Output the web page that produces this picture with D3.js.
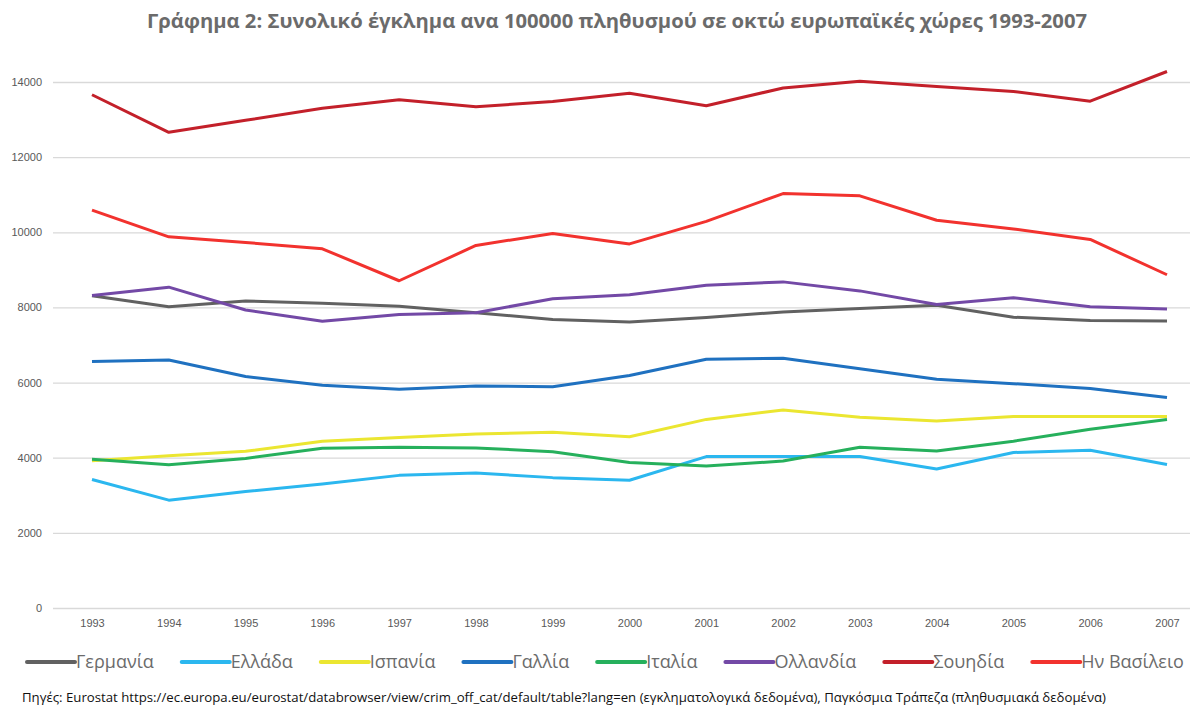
<!DOCTYPE html>
<html>
<head>
<meta charset="utf-8">
<script src="https://cdn.jsdelivr.net/npm/d3@7"></script>
<style>
  body { margin: 0; background: #fff; }
  svg { display: block; }
</style>
</head>
<body>
<div id="grafiek"></div>
<script>
// jaren op de x-as
const YEARS = ['1993','1994','1995','1996','1997','1998','1999','2000','2001','2002','2003','2004','2005','2006','2007']
const Y_TICKS = [0, 2000, 4000, 6000, 8000, 10000, 12000, 14000]

const COUNTRIES = ['Γερμανία','Ελλάδα','Ισπανία','Γαλλία','Ιταλία','Ολλανδία','Σουηδία','Ην Βασίλειο']
const COLORS = ['#616161','#2bb7ef','#ebe631','#1f71c0','#26b05c','#7349a6','#c3202a','#f2322e']

// waarden per land
const germany     = [8310, 8020, 8170, 8110, 8030, 7860, 7680, 7610, 7730, 7880, 7970, 8060, 7740, 7650, 7640]
const greece      = [3420, 2870, 3100, 3300, 3530, 3590, 3470, 3400, 4030, 4030, 4030, 3700, 4140, 4200, 3820]
const spain       = [3920, 4050, 4170, 4440, 4540, 4630, 4680, 4560, 5020, 5270, 5080, 4980, 5100, 5100, 5100]
const france      = [6560, 6600, 6160, 5930, 5820, 5910, 5890, 6190, 6620, 6650, 6370, 6090, 5970, 5840, 5600]
const italy       = [3960, 3810, 3980, 4250, 4280, 4260, 4160, 3870, 3780, 3910, 4280, 4180, 4440, 4760, 5020]
const netherlands = [8320, 8540, 7930, 7630, 7810, 7860, 8230, 8340, 8590, 8680, 8440, 8080, 8260, 8020, 7960]
const sweden      = [13660, 12660, 12980, 13300, 13530, 13340, 13480, 13700, 13370, 13840, 14020, 13880, 13750, 13490, 14280]
const uk          = [10590, 9880, 9730, 9560, 8710, 9650, 9970, 9690, 10290, 11030, 10970, 10320, 10090, 9810, 8870]

const SERIES = [germany, greece, spain, france, italy, netherlands, sweden, uk]

const W = 1197, H = 706
const MARGIN = {top: 82, bottom: 98, left: 53, right: 7}

const SVG = d3.select('#grafiek').append('svg')
  .attr('width', W)
  .attr('height', H)
  .style('font-family', '"Open Sans", sans-serif')

// punten op de x-as
const x = d3.scalePoint()
  .domain(YEARS)
  .range([92, 1167])

const y = d3.scaleLinear()
  .domain([0, 14000])
  .range([H - MARGIN.bottom, MARGIN.top])

// title
SVG.append('text')
  .attr('x', 617)
  .attr('y', 28)
  .attr('text-anchor', 'middle')
  .attr('font-size', 20)
  .attr('font-weight', 'bold')
  .attr('fill', '#6b6b6b')
  .attr('textLength', 940)
  .attr('lengthAdjust', 'spacingAndGlyphs')
  .text('Γράφημα 2: Συνολικό έγκλημα ανα 100000 πληθυσμού σε οκτώ ευρωπαϊκές χώρες 1993-2007')

// gridlines + y labels
const yAxis = SVG.append('g')
  .attr('transform', `translate(${MARGIN.left},0)`)
  .call(d3.axisLeft(y).tickValues(Y_TICKS).tickSize(-(W - MARGIN.left - MARGIN.right)).tickPadding(11).tickFormat(d3.format('d')))
yAxis.select('.domain').remove()
yAxis.selectAll('line').attr('stroke', '#d9d9d9').attr('stroke-width', 1.3)
yAxis.selectAll('text').attr('fill', '#595959').attr('font-size', 11)

// x labels
const xAxis = SVG.append('g')
  .attr('transform', `translate(0,${H - MARGIN.bottom})`)
  .call(d3.axisBottom(x).tickSize(0).tickPadding(11))
xAxis.select('.domain').remove()
xAxis.selectAll('text').attr('fill', '#595959').attr('font-size', 11)

// lines
const line = d3.line()
  .x((d, i) => x(YEARS[i]))
  .y(d => y(d))

SVG.append('g').selectAll('path')
  .data(SERIES)
  .join('path')
    .attr('d', line)
    .attr('fill', 'none')
    .attr('stroke', (d, i) => COLORS[i])
    .attr('stroke-width', 3)
    .attr('stroke-linejoin', 'round')

// legend
const LEGEND = SVG.append('g').attr('class', 'legend')
let lx = 27
COUNTRIES.forEach((name, i) => {
  const g = LEGEND.append('g').attr('transform', `translate(${lx},662)`)
  g.append('line')
    .attr('x1', 0).attr('x2', 48)
    .attr('stroke', COLORS[i])
    .attr('stroke-width', 4)
    .attr('stroke-linecap', 'round')
  const t = g.append('text')
    .attr('x', 49)
    .attr('dy', '0.35em')
    .attr('font-size', 18)
    .attr('fill', '#6b6b6b')
    .text(name)
  lx += 49 + t.node().getComputedTextLength() + 28
})

// bron
SVG.append('text')
  .attr('x', 22)
  .attr('y', 702)
  .attr('font-size', 13.5)
  .attr('fill', '#111')
  .attr('textLength', 1084)
  .attr('lengthAdjust', 'spacingAndGlyphs')
  .text('Πηγές: Eurostat https://ec.europa.eu/eurostat/databrowser/view/crim_off_cat/default/table?lang=en (εγκληματολογικά δεδομένα), Παγκόσμια Τράπεζα (πληθυσμιακά δεδομένα)')
</script>
</body>
</html>
